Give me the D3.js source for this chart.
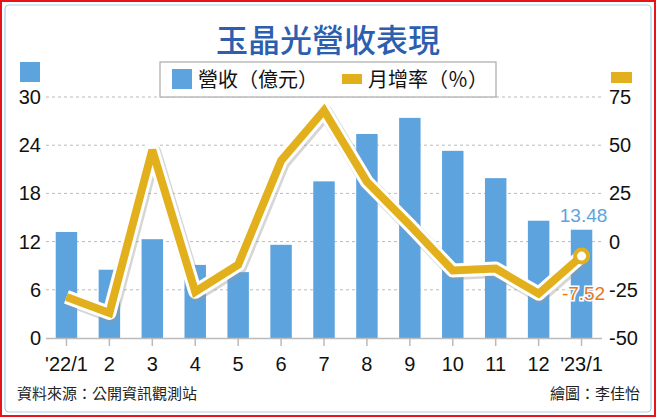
<!DOCTYPE html>
<html><head><meta charset="utf-8">
<script src="https://cdn.jsdelivr.net/npm/d3@7"></script>
<style>body{margin:0;background:#fff}svg{display:block;font-family:"Noto Sans CJK TC","Noto Sans",sans-serif}</style>
</head><body><svg id="c" width="656" height="417"></svg>
<script>
const categories = ["'22/1","2","3","4","5","6","7","8","9","10","11","12","'23/1"];
const revenue = [13.2,8.5,12.3,9.1,8.2,11.6,19.5,25.4,27.4,23.3,19.9,14.6,13.48];
const growth = [-28.7,-37,47.5,-26,-12,42,68,31,8.5,-15,-14,-27,-7.52];
const leftTicks = [0,6,12,18,24,30];
const rightTicks = [-50,-25,0,25,50,75];

const svg = d3.select("#c");
const blue = "#5da4de", gold = "#e3b01d";
const numFont = "Liberation Sans Narrow, Liberation Sans, sans-serif";
svg.append("rect").attr("x",1).attr("y",1).attr("width",654).attr("height",415).attr("fill","#fff").attr("stroke","#e8141b").attr("stroke-width",2);
svg.append("rect").attr("x",5).attr("y",5).attr("width",646).attr("height",407).attr("rx",4).attr("fill","none").attr("stroke","#a9cfee").attr("stroke-width",1.2);

svg.append("text").attr("x",328).attr("y",52).attr("text-anchor","middle").attr("font-size",32).attr("font-weight",500).attr("fill","#2c5fb0").text("玉晶光營收表現");

const x = d3.scaleBand().domain(categories).range([45,603]).paddingInner(0.5).paddingOuter(0.25);
const yL = d3.scaleLinear().domain([0,30]).range([338,97]);
const yR = d3.scaleLinear().domain([-50,75]).range([338,97]);

svg.append("g").selectAll("line").data(leftTicks.slice(1)).join("line")
 .attr("x1",46).attr("x2",602).attr("y1",d=>yL(d)).attr("y2",d=>yL(d))
 .attr("stroke","#bbb").attr("stroke-dasharray","3,3");

svg.append("rect").attr("x",160).attr("y",62).attr("width",336).attr("height",35).attr("fill","#fff").attr("stroke","#aaa").attr("stroke-width",1.2);
svg.append("rect").attr("x",172).attr("y",69).attr("width",20).attr("height",20).attr("fill",blue);
svg.append("text").attr("x",198).attr("y",87).attr("font-size",20).attr("fill","#111").text("營收（億元）");
svg.append("rect").attr("x",342).attr("y",74).attr("width",20).attr("height",10).attr("fill",gold);
svg.append("text").attr("x",368).attr("y",87).attr("font-size",20).attr("fill","#111").text("月增率（％）");
svg.append("rect").attr("x",20).attr("y",62).attr("width",20).attr("height",20).attr("fill",blue);
svg.append("rect").attr("x",611).attr("y",72).attr("width",21).attr("height",11).attr("fill",gold);

svg.append("g").selectAll("rect").data(revenue).join("rect")
 .attr("x",(d,i)=>x(categories[i])).attr("width",x.bandwidth())
 .attr("y",d=>yL(d)).attr("height",d=>yL(0)-yL(d)).attr("fill",blue);

svg.append("line").attr("x1",46).attr("x2",602).attr("y1",338.5).attr("y2",338.5).attr("stroke","#bbb").attr("stroke-width",1.5);
svg.append("g").selectAll("line").data(categories).join("line")
 .attr("x1",d=>x(d)+x.bandwidth()/2).attr("x2",d=>x(d)+x.bandwidth()/2).attr("y1",339).attr("y2",346).attr("stroke","#bbb").attr("stroke-width",1.5);
svg.append("g").selectAll("text").data(categories).join("text")
 .attr("x",d=>x(d)+x.bandwidth()/2).attr("y",371).attr("text-anchor","middle")
 .attr("font-size",20).attr("font-family",numFont).attr("fill","#111").text(d=>d);
svg.append("g").selectAll("text").data(leftTicks).join("text")
 .attr("x",41).attr("y",d=>yL(d)+7).attr("text-anchor","end").attr("font-size",20)
 .attr("font-family",numFont).attr("fill","#111").text(d=>d);
svg.append("g").selectAll("text").data(rightTicks).join("text")
 .attr("x",609).attr("y",d=>yR(d)+7).attr("text-anchor","start").attr("font-size",20)
 .attr("font-family",numFont).attr("fill","#111").text(d=>d);

const line = d3.line().x((d,i)=>x(categories[i])+x.bandwidth()/2).y(d=>yR(d));
svg.append("path").datum(growth).attr("d",line).attr("fill","none").attr("stroke","#999").attr("stroke-opacity",0.4).attr("stroke-width",15).attr("stroke-linejoin","round").attr("transform","translate(1.5,2)");
svg.append("path").datum(growth).attr("d",line).attr("fill","none").attr("stroke","#fff").attr("stroke-width",14).attr("stroke-linejoin","round");
svg.append("path").datum(growth).attr("d",line).attr("fill","none").attr("stroke",gold).attr("stroke-width",8).attr("stroke-linejoin","miter").attr("stroke-miterlimit",3);
const li = growth.length-1;
svg.append("circle").attr("cx",x(categories[li])+x.bandwidth()/2).attr("cy",yR(growth[li])).attr("r",6.5)
 .attr("fill","#fff").attr("stroke",gold).attr("stroke-width",4);

svg.append("text").attr("x",x(categories[li])+x.bandwidth()/2+2).attr("y",yL(revenue[li])-8).attr("text-anchor","middle")
 .attr("font-size",19).attr("font-family",numFont).attr("fill","#5da4de").text(revenue[li].toFixed(2));
svg.append("text").attr("x",x(categories[li])+x.bandwidth()/2+2).attr("y",yR(growth[li])+44).attr("text-anchor","middle")
 .attr("font-size",19).attr("font-family",numFont).attr("fill","#e8761d")
 .attr("stroke","#fff").attr("stroke-width",3).attr("paint-order","stroke").text(growth[li].toFixed(2));

svg.append("text").attr("x",17).attr("y",399).attr("font-size",15).attr("fill","#222").text("資料來源：公開資訊觀測站");
svg.append("text").attr("x",640).attr("y",399).attr("text-anchor","end").attr("font-size",15).attr("fill","#222").text("繪圖：李佳怡");
</script></body></html>
